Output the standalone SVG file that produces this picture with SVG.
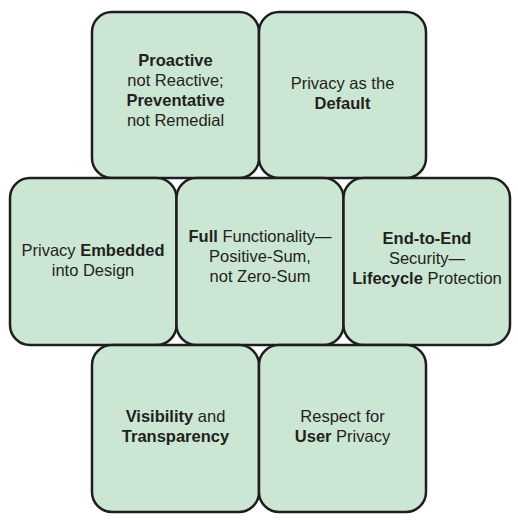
<svg xmlns="http://www.w3.org/2000/svg" width="518" height="523" viewBox="0 0 518 523">
<style>
.box{fill:#cce6d4;stroke:#1e1e1e;stroke-width:2.5}
text{font-family:"Liberation Sans",Arial,sans-serif;font-size:16.5px;fill:#231f20;text-anchor:middle}
.b{font-weight:bold}
</style>
<rect width="518" height="523" fill="#ffffff"/>
<g id="connectors"></g>
<g id="proactive">
<rect class="box" x="92" y="12" width="167" height="166" rx="20"/>
<text x="175.5" y="66"><tspan class="b">Proactive</tspan></text>
<text x="175.5" y="86">not Reactive;</text>
<text x="175.5" y="106"><tspan class="b">Preventative</tspan></text>
<text x="175.5" y="126">not Remedial</text>
</g>
<g id="default">
<rect class="box" x="259" y="12" width="167" height="166" rx="20"/>
<text x="342.5" y="89">Privacy as the</text>
<text x="342.5" y="109"><tspan class="b">Default</tspan></text>
</g>
<g id="embedded">
<rect class="box" x="10" y="178" width="166.5" height="167" rx="20"/>
<text x="93" y="256">Privacy <tspan class="b">Embedded</tspan></text>
<text x="93" y="276">into Design</text>
</g>
<g id="functionality">
<rect class="box" x="176.5" y="178" width="167" height="167" rx="20"/>
<text x="260" y="242"><tspan class="b">Full</tspan> Functionality—</text>
<text x="260" y="262">Positive-Sum,</text>
<text x="260" y="282">not Zero-Sum</text>
</g>
<g id="security">
<rect class="box" x="343.5" y="178" width="166.5" height="167" rx="20"/>
<text x="427" y="244"><tspan class="b">End-to-End</tspan></text>
<text x="427" y="264">Security—</text>
<text x="427" y="284"><tspan class="b">Lifecycle</tspan> Protection</text>
</g>
<g id="visibility">
<rect class="box" x="92" y="345" width="167" height="167" rx="20"/>
<text x="175.5" y="422"><tspan class="b">Visibility</tspan> and</text>
<text x="175.5" y="442"><tspan class="b">Transparency</tspan></text>
</g>
<g id="respect">
<rect class="box" x="259" y="345" width="167" height="167" rx="20"/>
<text x="342.5" y="422">Respect for</text>
<text x="342.5" y="442"><tspan class="b">User</tspan> Privacy</text>
</g>
</svg>
